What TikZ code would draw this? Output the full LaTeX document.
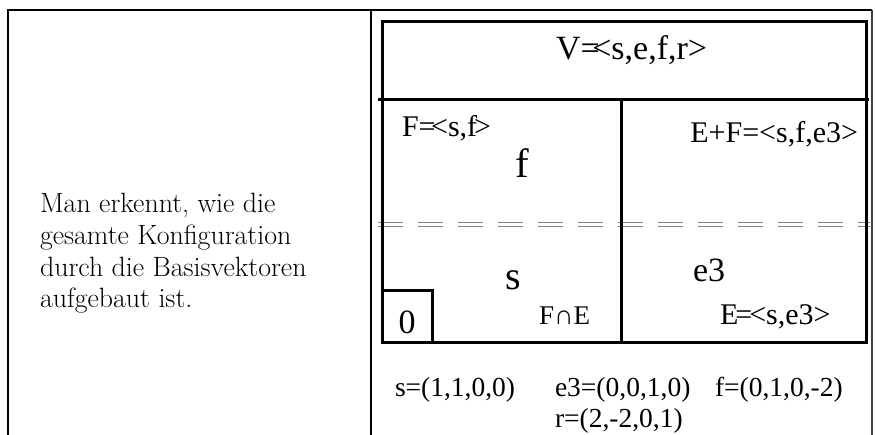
\documentclass[tikz,border=0pt]{standalone}
\usepackage{fontspec}
\newfontfamily\tms{Liberation Serif}
\newcommand{\fsz}[1]{\fontsize{#1}{#1}\selectfont}
\begin{document}
\begin{tikzpicture}[x=1pt,y=-1pt,
  tbl/.style={line width=1.8pt, black},
  box/.style={line width=3pt, black},
  dsh/.style={line width=1pt, gray, dash pattern=on 25pt off 15pt},
  tx/.style={inner sep=0pt, outer sep=0pt, font=\tms},
  lm/.style={inner sep=0pt, outer sep=0pt, anchor=base west, font=\fontsize{27.9}{31.7}\selectfont}]
\useasboundingbox (0,0) rectangle (875,435);
% outer table
\draw[tbl] (8,436) -- (8,10) -- (872,10);
\draw[line width=1.2pt, black!75] (872,10) -- (872,436);
\draw[tbl] (371,10) -- (371,436);
% left text
\node[lm] (l1) at (40,213) {Man erkennt, wie die};
\node[lm] (l2) at (40,244.7) {gesamte Konfiguration};
\node[lm] (l3) at (40,276.4) {durch die Basisvektoren};
\node[lm] (l4) at (40,308) {aufgebaut ist.};
% dashed double line
\draw[dsh] (378,222.5) -- (870,222.5);
\draw[dsh] (378,227) -- (870,227);
% inner boxes
\draw[box] (382,22) rectangle (866,343);
\draw[box] (378,100) -- (869,100);
\draw[box] (621,100) -- (621,343);
\draw[box] (382,291) rectangle (432,343);
% labels
\node[tx, anchor=base west] (v) at (556,60) {\fsz{34}V=\kern-0.22em<s,e,f,r>};
\node[tx, anchor=base west] (F) at (402,137) {\fsz{30}F=\kern-0.15em<s,f\kern-0.1em>};
\node[tx, anchor=base] (f) at (522,178) {\fsz{41}f};
\node[tx, anchor=base east] (EF) at (858,143) {\fsz{30}E+F=<s,f,e3>};
\node[tx, anchor=base] (s) at (513,290) {\fsz{40}s};
\node[tx, anchor=base west] (FE) at (539,325) {\fsz{27}F∩E};
\node[tx, anchor=base] (z) at (407,334) {\fsz{34}0};
\node[tx, anchor=base west] (e3) at (693,282) {\fsz{34}e3};
\node[tx, anchor=base west] (E) at (720,325) {\fsz{30}E\kern-0.1em=\kern-0.1em<s,e3>};
% vectors
\node[tx, anchor=base west] (vs) at (395,396) {\fsz{27.5}s=(1,1,0,0)};
\node[tx, anchor=base west] (ve) at (555,396) {\fsz{27.5}e3=(0,0,1,0)};
\node[tx, anchor=base west] (vf) at (715,396) {\fsz{27.5}f=(0,1,0,-2)};
\node[tx, anchor=base west] (vr) at (555,427) {\fsz{27.5}r=(2,-2,0,1)};
\end{tikzpicture}
\end{document}
